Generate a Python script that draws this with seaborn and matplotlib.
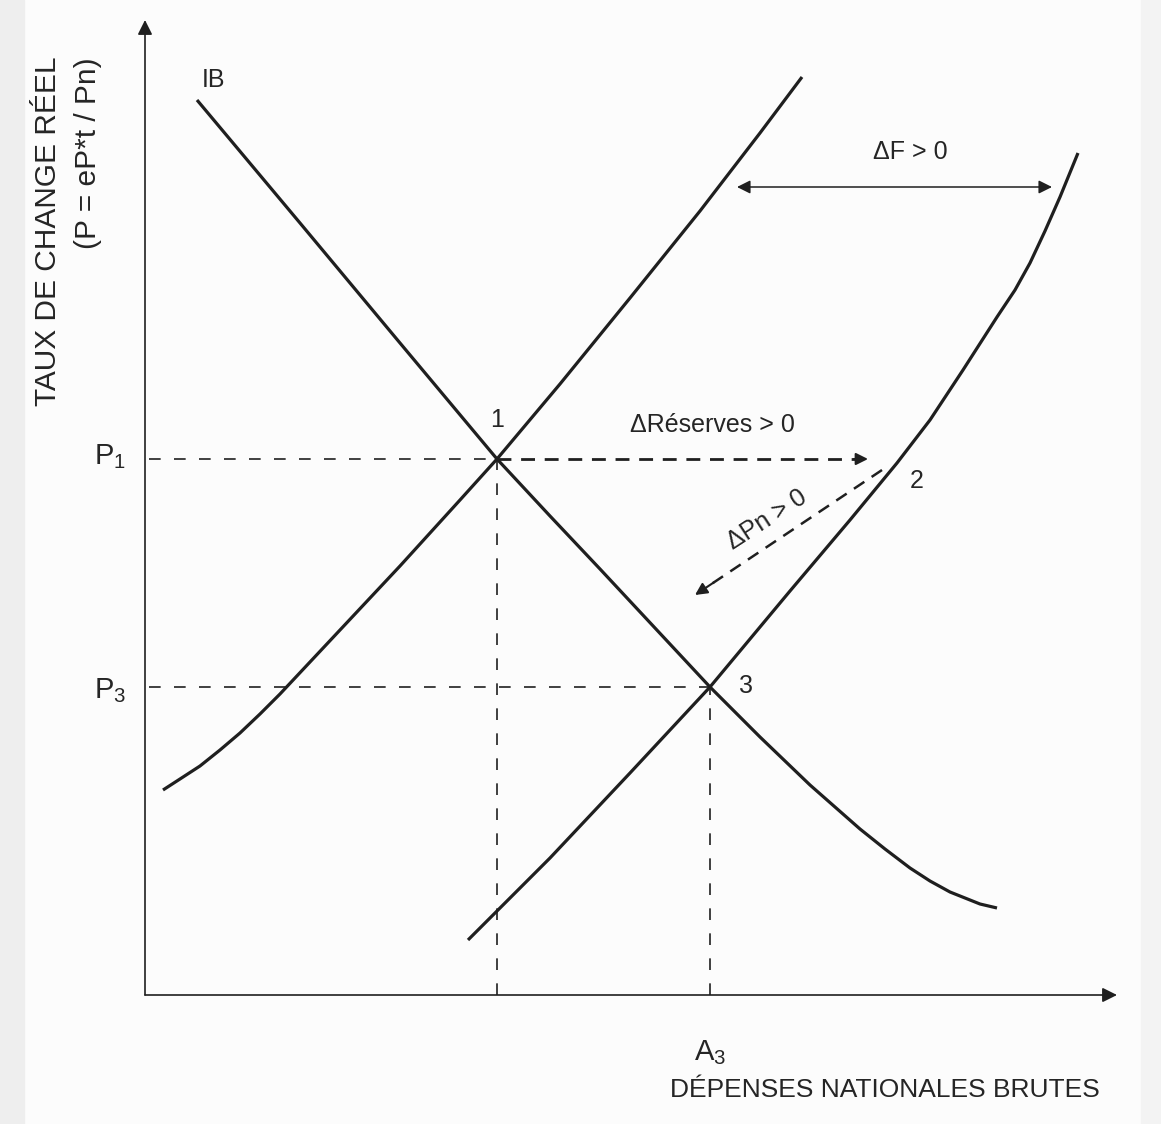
import matplotlib
matplotlib.use("Agg")
import matplotlib.pyplot as plt
from matplotlib.patches import Rectangle
import seaborn as sns
import pandas as pd

# ---------------- data (diagram units: 1 unit ~ 1 px, origin at axes corner) -------------
curve1_x = [18, 35, 55, 75, 95, 115, 135, 195, 255, 315, 352, 415, 485, 555, 615, 657]
curve1_y = [205, 216, 229, 245, 262, 281, 301, 365, 429, 495, 536, 611, 697, 784, 862, 918]

ib_x = [52, 155, 255, 352, 405, 455, 510, 565, 615, 665, 715, 740, 765, 785, 805, 835, 852]
ib_y = [895, 772, 652, 536, 479, 426, 367, 308, 258, 210, 166, 146, 127, 114, 103, 91, 87]

curve2_x = [323, 405, 485, 565, 645, 705, 752, 785, 818, 852, 870, 885, 900, 915, 933]
curve2_y = [55, 137, 222, 308, 404, 475, 532, 575, 625, 678, 705, 732, 764, 798, 842]

P1, P3 = 536, 308          # price levels (points 1 and 3)
A1, A3 = 352, 565          # spending levels (points 1 and 3)
reserves_end_x = 723       # end of ΔRéserves arrow
pn_start = (737, 525)      # ΔPn arrow start (near point 2)
pn_end = (550, 400)        # ΔPn arrow end
df_left, df_right, df_y = 592, 907, 808   # ΔF double arrow

curve_names = ["BB", "IB", "BB2"]
y_label_1 = "TAUX DE CHANGE RÉEL"
y_label_2 = "(P = eP*t / Pn)"
x_label = "DÉPENSES NATIONALES BRUTES"

# ---------------- figure ----------------
sns.set_theme(style="white")
plt.rcParams["font.family"] = ["Liberation Sans", "DejaVu Sans"]
plt.rcParams["mathtext.fontset"] = "custom"
plt.rcParams["mathtext.rm"] = "Liberation Sans"

W, H = 1161, 1124
fig = plt.figure(figsize=(W / 100, H / 100), dpi=100)
fig.patch.set_facecolor("#fcfcfc")
# faint scan border
fig.patches.append(Rectangle((0, 0), 24 / W, 1, transform=fig.transFigure,
                             color="#eeeeee", zorder=0))
fig.patches.append(Rectangle((1 - 20 / W, 0), 20 / W, 1, transform=fig.transFigure,
                             color="#f3f3f3", zorder=0))

ox, oy = 145, 995
ax = fig.add_axes([ox / W, (H - oy) / H, (W - ox) / W, oy / H])
ax.set_xlim(0, W - ox)
ax.set_ylim(0, oy)
ax.axis("off")
ax.patch.set_alpha(0)

ink = "#1f1f1f"

df = pd.concat([
    pd.DataFrame({"x": curve1_x, "y": curve1_y, "curve": curve_names[0]}),
    pd.DataFrame({"x": ib_x, "y": ib_y, "curve": curve_names[1]}),
    pd.DataFrame({"x": curve2_x, "y": curve2_y, "curve": curve_names[2]}),
])
sns.lineplot(data=df, x="x", y="y", hue="curve", units="curve", estimator=None,
             sort=False, palette=[ink] * 3, linewidth=2.3, legend=False, ax=ax)
for ln in ax.lines:
    ln.set_solid_joinstyle("round")
    ln.set_solid_capstyle("butt")

# axes with arrows
ax.annotate("", xy=(0, 975), xytext=(0, 0),
            arrowprops=dict(arrowstyle="-|>", color=ink, lw=1.2, mutation_scale=22,
                            shrinkA=0, shrinkB=0), annotation_clip=False)
ax.annotate("", xy=(972, 0), xytext=(0, 0),
            arrowprops=dict(arrowstyle="-|>", color=ink, lw=1.2, mutation_scale=22,
                            shrinkA=0, shrinkB=0), annotation_clip=False)

# guide dashed lines
dash_kw = dict(color=ink, lw=1.2, dashes=(7, 8))
ax.plot([4, A1], [P1, P1], **dash_kw)
ax.plot([A1, A1], [0, P1], **dash_kw)
ax.plot([4, A3], [P3, P3], **dash_kw)
ax.plot([A3, A3], [0, P3], **dash_kw)

# ΔRéserves arrow (dashed, thicker)
ax.plot([A1, reserves_end_x - 12], [P1, P1], color=ink, lw=2.0, dashes=(5, 3.5))
ax.annotate("", xy=(reserves_end_x, P1), xytext=(reserves_end_x - 14, P1),
            arrowprops=dict(arrowstyle="-|>", color=ink, lw=1.5, mutation_scale=18,
                            shrinkA=0, shrinkB=0))

# ΔPn arrow (dashed)
dx, dy = pn_end[0] - pn_start[0], pn_end[1] - pn_start[1]
frac = 0.93
ax.plot([pn_start[0], pn_start[0] + dx * frac], [pn_start[1], pn_start[1] + dy * frac],
        color=ink, lw=1.8, dashes=(5, 3.5))
ax.annotate("", xy=pn_end, xytext=(pn_start[0] + dx * 0.9, pn_start[1] + dy * 0.9),
            arrowprops=dict(arrowstyle="-|>", color=ink, lw=1.5, mutation_scale=18,
                            shrinkA=0, shrinkB=0))

# ΔF double arrow
ax.annotate("", xy=(df_right, df_y), xytext=(df_left, df_y),
            arrowprops=dict(arrowstyle="<|-|>", color=ink, lw=1.1, mutation_scale=20,
                            shrinkA=0, shrinkB=0))

# ---------------- text ----------------
tc = "#252525"
ax.text(-97, 938, y_label_1, rotation=90, ha="center", va="top", fontsize=21.5,
        color=tc, clip_on=False)
ax.text(-57, 938, y_label_2, rotation=90, ha="center", va="top", fontsize=21.5,
        color=tc, clip_on=False)
ax.text(740, -95, x_label, ha="center", va="center", fontsize=19, color=tc, clip_on=False)

ax.text(-35, P1 + 2, r"$\mathregular{P_1}$", ha="center", va="center", fontsize=21,
        color=tc, clip_on=False)
ax.text(-35, P3 - 4, r"$\mathregular{P_3}$", ha="center", va="center", fontsize=21,
        color=tc, clip_on=False)
ax.text(A3, -58, r"$\mathregular{A_3}$", ha="center", va="center", fontsize=21,
        color=tc, clip_on=False)

ax.text(69, 915, "IB", ha="center", va="center", fontsize=18, color=tc)
ax.text(A1, 575, "1", ha="center", va="center", fontsize=18, color=tc)
ax.text(772, 514, "2", ha="center", va="center", fontsize=18, color=tc)
ax.text(601, 309, "3", ha="center", va="center", fontsize=18, color=tc)
ax.text(567, 570, "ΔRéserves > 0", ha="center", va="center", fontsize=18, color=tc)
ax.text(622, 475, "ΔPn > 0", ha="center", va="center", fontsize=18, rotation=33,
        rotation_mode="anchor", color=tc)
ax.text(765, 843, "ΔF > 0", ha="center", va="center", fontsize=18, color=tc)

fig.savefig("out.png", dpi=100, facecolor=fig.get_facecolor())
